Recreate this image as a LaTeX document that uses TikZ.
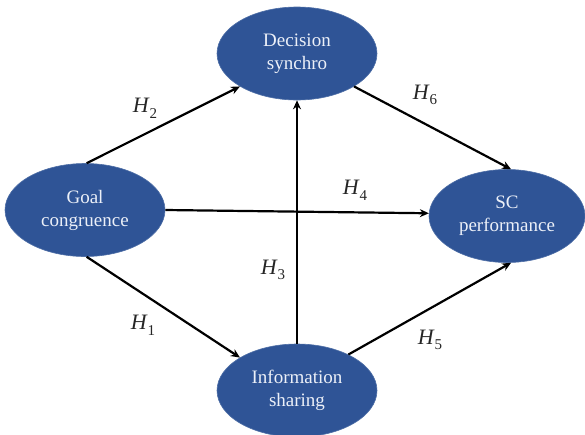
\documentclass[tikz,border=0pt]{standalone}
\usepackage{fontspec}
\setmainfont{Liberation Serif}
\usetikzlibrary{arrows.meta,shapes.geometric}
\definecolor{nodeblue}{RGB}{47,84,150}
\definecolor{nodetext}{RGB}{236,240,248}
\newcommand{\hyp}[1]{\textit{H}\raisebox{-0.26em}{\fontsize{15}{15}\selectfont #1}}
\tikzset{
  construct/.style={ellipse, fill=nodeblue, draw=nodeblue!85!white, line width=0.6pt,
    minimum width=160pt, minimum height=93pt, inner sep=0pt, align=center,
    text=nodetext, font=\fontsize{19}{23}\selectfont},
  path/.style={line width=2.2pt, draw=black, -{Stealth[length=9pt,width=8pt]}},
  hlabel/.style={font=\fontsize{22}{24}\selectfont, inner sep=0pt, text=black!85}
}
\begin{document}
\begin{tikzpicture}[x=1pt,y=-1pt]
\useasboundingbox (0,0) rectangle (585,434);
\clip (0,0) rectangle (585,434);
\node[construct] (ds) at (297,53.5) {Decision\\synchro};
\node[construct] (gc) at (85,210) {Goal\\congruence};
\node[construct, minimum width=156pt] (sc) at (507,216) {SC\\performance};
\node[construct] (is) at (297,390.5) {Information\\sharing};
\draw[path] (gc.88) -- (ds.210);
\draw[path] (gc.-88) -- (is.150);
\draw[path] (ds.-30) -- (sc.85);
\draw[path] (is.35) -- (sc.-85);
\draw[path] (gc.east) -- (sc.178);
\draw[path] (is.north) -- (ds.south);
\node[hlabel] (h2) at (145,108) {\hyp{2}};
\node[hlabel] (h6) at (425,95) {\hyp{6}};
\node[hlabel] (h4) at (355,190) {\hyp{4}};
\node[hlabel] (h3) at (273,270) {\hyp{3}};
\node[hlabel] (h1) at (143,325) {\hyp{1}};
\node[hlabel] (h5) at (430,340) {\hyp{5}};
\end{tikzpicture}
\end{document}
